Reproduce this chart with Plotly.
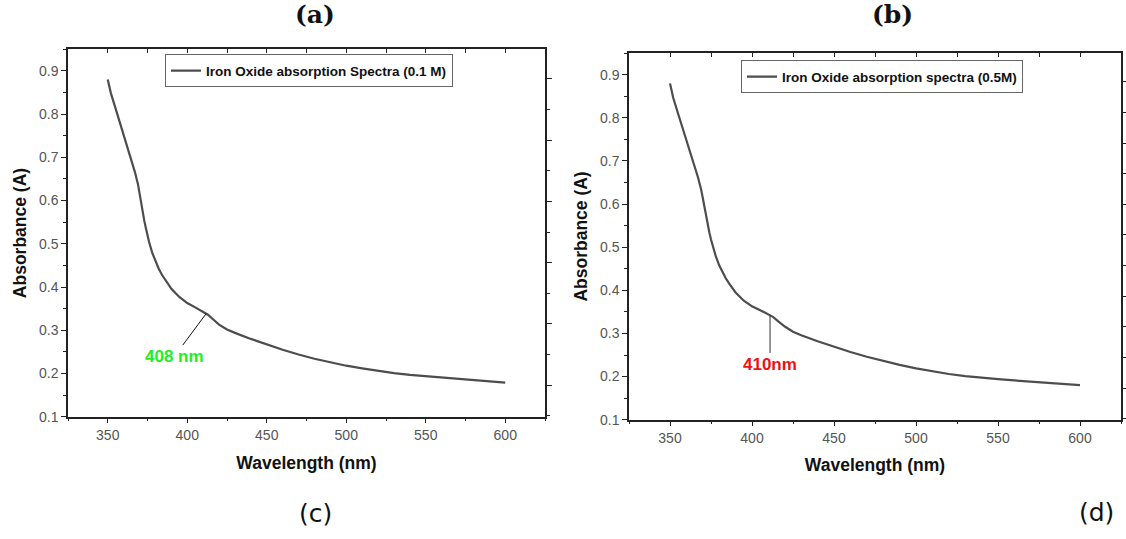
import plotly.graph_objects as go

# ---------------- data ----------------
wl_a = [350, 352, 355, 358, 360, 363, 365, 367, 369, 370, 371, 372, 373, 374, 375, 376,
        378, 380, 382, 384, 386, 388, 390, 395, 400, 405, 410, 413, 416, 420, 425, 430,
        440, 450, 460, 470, 480, 490, 500, 510, 520, 530, 540, 550, 560, 570, 580, 590, 600]
abs_a = [0.880, 0.848, 0.812, 0.776, 0.753, 0.718, 0.693, 0.667, 0.638, 0.615, 0.593,
         0.572, 0.553, 0.536, 0.519, 0.504, 0.479, 0.459, 0.443, 0.429, 0.417, 0.406,
         0.396, 0.377, 0.363, 0.353, 0.343, 0.336, 0.326, 0.313, 0.302, 0.294, 0.280,
         0.267, 0.255, 0.244, 0.234, 0.226, 0.218, 0.212, 0.206, 0.201, 0.197, 0.194,
         0.191, 0.188, 0.185, 0.182, 0.179]

wl_b = [350, 352, 355, 358, 360, 363, 365, 367, 369, 370, 371, 372, 373, 374, 375, 376,
        378, 380, 382, 384, 386, 388, 390, 395, 400, 405, 410, 413, 416, 420, 425, 430,
        440, 450, 460, 470, 480, 490, 500, 510, 520, 530, 540, 550, 560, 570, 580, 590, 600]
abs_b = [0.880, 0.846, 0.809, 0.772, 0.749, 0.714, 0.689, 0.663, 0.634, 0.612, 0.590,
         0.570, 0.551, 0.534, 0.518, 0.503, 0.478, 0.458, 0.442, 0.428, 0.416, 0.405,
         0.395, 0.376, 0.363, 0.354, 0.344, 0.338, 0.328, 0.316, 0.304, 0.296, 0.282,
         0.269, 0.257, 0.246, 0.236, 0.227, 0.219, 0.212, 0.206, 0.201, 0.197, 0.194,
         0.191, 0.188, 0.185, 0.182, 0.180]

name_a = "Iron Oxide absorption Spectra (0.1 M)"
name_b = "Iron Oxide absorption spectra (0.5M)"

peak_a = (412, 0.339, "408 nm")
peak_b = (411, 0.341, "410nm")

x_range = [325, 625]
y_range = [0.1, 0.95]
x_ticks = [350, 400, 450, 500, 550, 600]
y_ticks = [0.1, 0.2, 0.3, 0.4, 0.5, 0.6, 0.7, 0.8, 0.9]

W, H = 1126, 539
LINE = "#4d4d4d"
SANS = "Liberation Sans, Arial, sans-serif"

fig = go.Figure()
fig.add_trace(go.Scatter(x=wl_a, y=abs_a, mode="lines", name="<b>" + name_a + "</b>",
                         line=dict(color=LINE, width=2.2), xaxis="x", yaxis="y",
                         legend="legend"))
fig.add_trace(go.Scatter(x=wl_b, y=abs_b, mode="lines", name="<b>" + name_b + "</b>",
                         line=dict(color=LINE, width=2.2), xaxis="x2", yaxis="y2",
                         legend="legend2"))
fig.add_trace(go.Scatter(x=[None], y=[None], xaxis="x3", yaxis="y3", showlegend=False,
                         hoverinfo="skip"))
fig.add_trace(go.Scatter(x=[None], y=[None], xaxis="x5", yaxis="y5", showlegend=False,
                         hoverinfo="skip"))


def px_dom(a, b, total):
    return [a / total, b / total]


def ydom(top, bottom):
    return [1 - bottom / H, 1 - top / H]


panels = [
    dict(xs="", l=68, r=545, top=50, bot=423, rr=[-0.516, 5.484]),
    dict(xs="2", l=629, r=1121, top=54, bot=426, rr=[-0.516, 5.468]),
]

tickfont = dict(family=SANS, size=14, color="#555555")
titlefont = dict(family=SANS, size=17.5, color="#111111")

layout = dict(width=W, height=H, margin=dict(l=0, r=0, t=0, b=0),
              paper_bgcolor="white", plot_bgcolor="white", showlegend=True)

for i, p in enumerate(panels):
    s = p["xs"]
    xd = px_dom(p["l"], p["r"], W)
    yd = ydom(p["top"], p["bot"])
    layout["xaxis" + s] = dict(
        domain=xd, range=x_range, tickvals=x_ticks, ticks="outside", ticklen=5,
        tickwidth=1, tickcolor="#222", showline=True, linecolor="#222", linewidth=1.5,
        showgrid=False, zeroline=False, tickfont=tickfont,
        minor=dict(dtick=25, tick0=325, ticks="outside", ticklen=3, tickcolor="#222"),
        title=dict(text="<b>Wavelength (nm)</b>", font=titlefont, standoff=14),
        anchor="y" + s)
    layout["yaxis" + s] = dict(
        domain=yd, range=y_range, tickvals=y_ticks, ticks="outside", ticklen=5,
        tickwidth=1, tickcolor="#222", showline=True, linecolor="#222", linewidth=1.5,
        showgrid=False, zeroline=False, tickfont=tickfont,
        minor=dict(dtick=0.05, tick0=0.1, ticks="outside", ticklen=3, tickcolor="#222"),
        title=dict(text="<b>Absorbance (A)</b>", font=titlefont, standoff=8),
        anchor="x" + s)
    k = str(3 + i * 2)
    layout["xaxis" + k] = dict(
        domain=xd, range=x_range, tickvals=x_ticks, ticks="inside", ticklen=4,
        tickcolor="#222", showline=True, linecolor="#222", linewidth=1.5,
        showticklabels=False, showgrid=False, zeroline=False, side="top",
        overlaying="x" + s, anchor="y" + s,
        minor=dict(dtick=25, tick0=325, ticks="inside", ticklen=4, tickcolor="#222"))
    layout["yaxis" + k] = dict(
        domain=yd, range=p["rr"], dtick=1, tick0=0, ticks="outside", ticklen=5,
        tickcolor="#222", showline=True, linecolor="#222", linewidth=1.5,
        showticklabels=False, showgrid=False, zeroline=False, side="right",
        overlaying="y" + s, anchor="x" + s,
        minor=dict(dtick=0.5, tick0=0, ticks="outside", ticklen=3, tickcolor="#222"))

legend_common = dict(bgcolor="white", bordercolor="#666666", borderwidth=1,
                     font=dict(family=SANS, size=13.5, color="#111111"),
                     xanchor="center", yanchor="middle", itemwidth=30,
                     tracegroupgap=0)
layout["legend"] = dict(legend_common, x=309 / W, y=1 - 72 / H)
layout["legend2"] = dict(legend_common, x=882 / W, y=1 - 78 / H)

fig.update_layout(**layout)

annots = [
    dict(x=peak_a[0], y=peak_a[1], xref="x", yref="y", ax=392, ay=0.240,
         axref="x", ayref="y", text="<b>" + peak_a[2] + "</b>", showarrow=True,
         arrowhead=0, arrowwidth=1, arrowcolor="#111111", standoff=0,
         font=dict(family=SANS, size=17, color="#22ee22")),
    dict(x=peak_b[0], y=peak_b[1], xref="x2", yref="y2", ax=peak_b[0], ay=0.229,
         axref="x2", ayref="y2", text="<b>" + peak_b[2] + "</b>", showarrow=True,
         arrowhead=0, arrowwidth=1, arrowcolor="#333333", standoff=0,
         font=dict(family=SANS, size=17, color="#ee1111")),
    dict(x=315 / W, y=1 - 15 / H, xref="paper", yref="paper", text="<b>(a)</b>",
         showarrow=False, font=dict(family="DejaVu Serif", size=25, color="#111"),
         xanchor="center", yanchor="middle"),
    dict(x=892 / W, y=1 - 15 / H, xref="paper", yref="paper", text="<b>(b)</b>",
         showarrow=False, font=dict(family="DejaVu Serif", size=25, color="#111"),
         xanchor="center", yanchor="middle"),
    dict(x=315 / W, y=1 - 521 / H, xref="paper", yref="paper", text="(c)",
         showarrow=False, font=dict(family="DejaVu Sans", size=25, color="#111"),
         xanchor="center", yanchor="middle"),
    dict(x=1096 / W, y=1 - 520 / H, xref="paper", yref="paper", text="(d)",
         showarrow=False, font=dict(family="DejaVu Sans", size=25, color="#111"),
         xanchor="center", yanchor="middle"),
]
fig.update_layout(annotations=annots)

fig.write_html("out.html")
